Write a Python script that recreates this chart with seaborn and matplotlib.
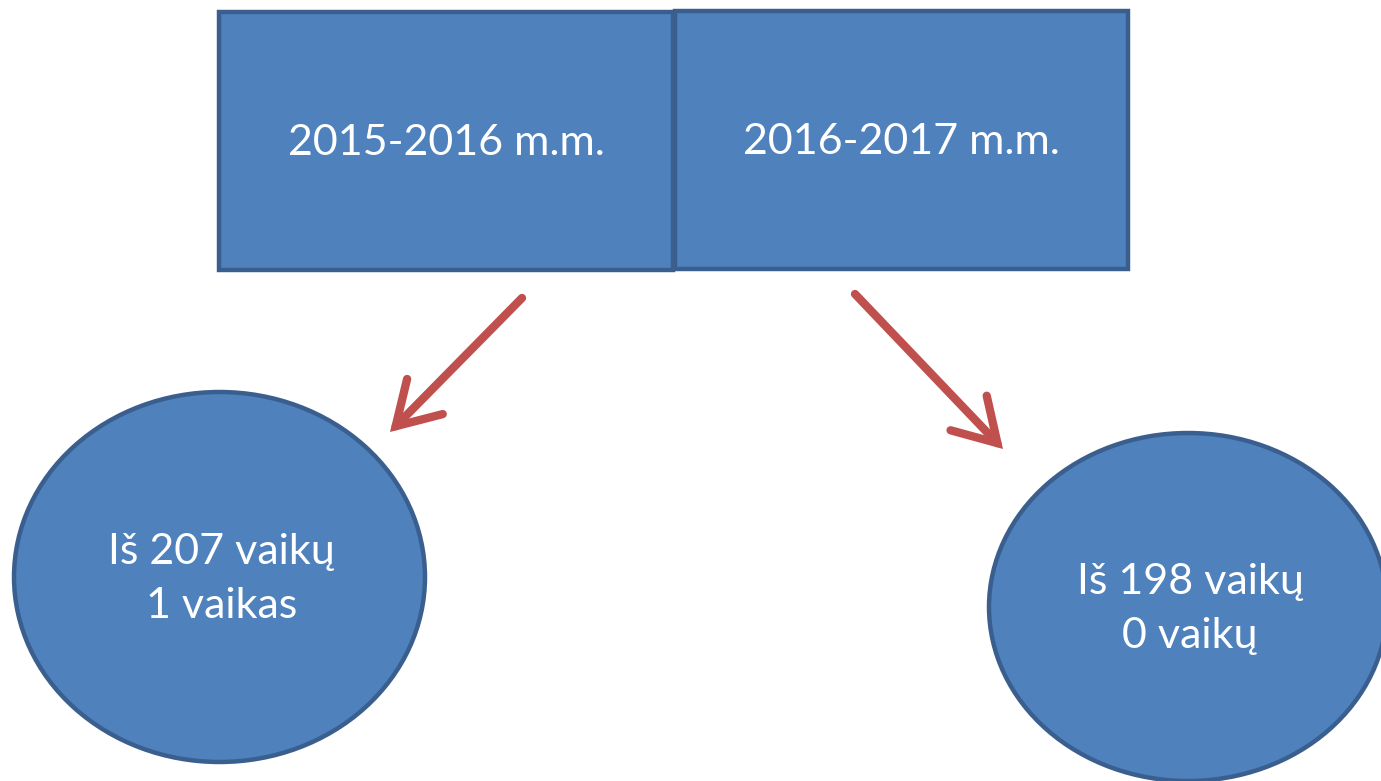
import matplotlib
matplotlib.use("Agg")
import matplotlib.pyplot as plt
import seaborn as sns
from matplotlib.patches import Rectangle, Ellipse, FancyArrowPatch

sns.set_theme(style="white")
plt.rcParams['font.family'] = ['Lato', 'DejaVu Sans']

# data
years = ["2015-2016 m.m.", "2016-2017 m.m."]
totals = [207, 198]
results = ["1 vaikas", "0 vaikų"]

fill = "#4f81bd"
edge = "#3a5f8e"
arrow_c = "#c0504d"

fig = plt.figure(figsize=(13.81, 7.81), dpi=100)
ax = fig.add_axes([0, 0, 1, 1])
ax.set_xlim(0, 1381)
ax.set_ylim(781, 0)
ax.axis("off")

# boxes
boxes = [(219, 12, 454, 258), (675, 11, 453, 258)]
for (x, y, w, h), lab in zip(boxes, years):
    ax.add_patch(Rectangle((x, y), w, h, facecolor=fill, edgecolor=edge, linewidth=3.2))
    ax.text(x + w / 2, y + h / 2 + 2, lab, ha="center", va="center", color="white", fontsize=31)

# ellipses
ells = [(219.5, 577, 411, 370), (1188, 607, 398, 348)]
for (cx, cy, w, h), t, r in zip(ells, totals, results):
    ax.add_patch(Ellipse((cx, cy), w, h, facecolor=fill, edgecolor=edge, linewidth=3.2))
    ax.text(cx + 2, cy + 2, f"Iš {t} vaikų\n{r}", ha="center", va="center", color="white",
            fontsize=31, linespacing=1.5)

# arrows
arrows = [((522, 298), (390, 432)), ((855, 294), (1003, 449))]
for s, e in arrows:
    ax.add_patch(FancyArrowPatch(s, e, arrowstyle="->,head_length=0.75,head_width=0.45",
                                 color=arrow_c, linewidth=6, mutation_scale=40,
                                 shrinkA=0, shrinkB=0, joinstyle="miter", capstyle="round"))

fig.savefig("out.png", dpi=100)
